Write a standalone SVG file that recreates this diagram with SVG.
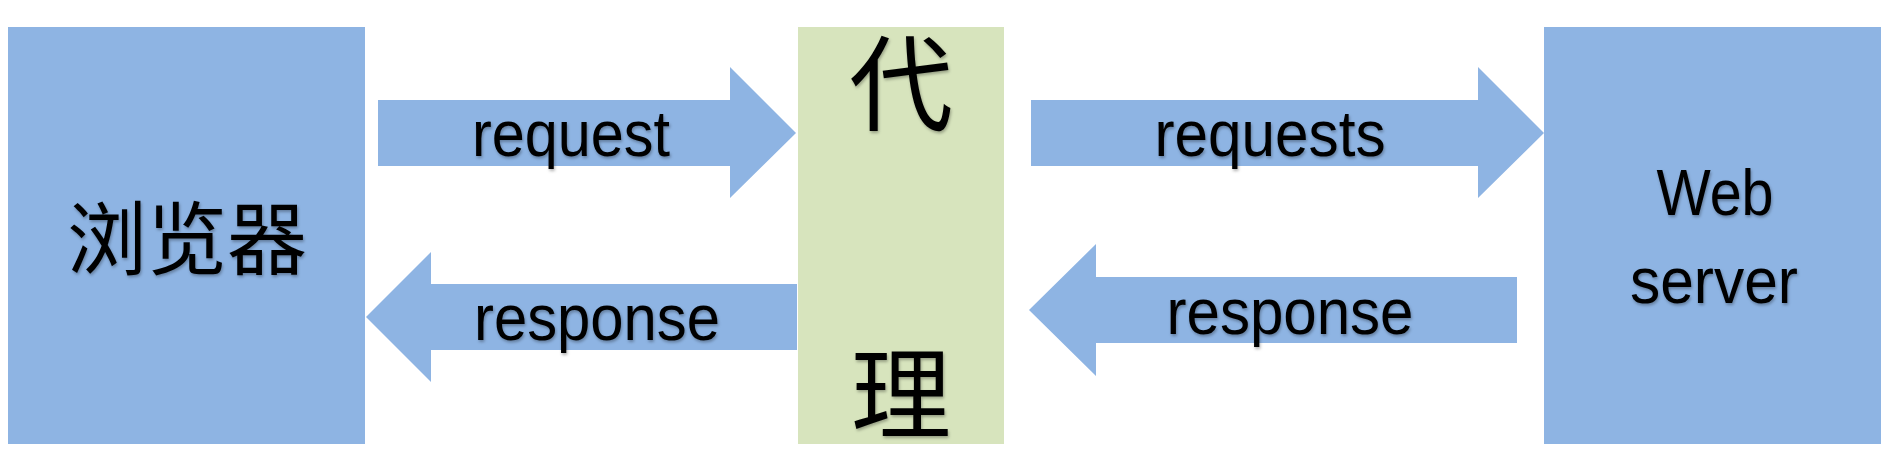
<svg xmlns="http://www.w3.org/2000/svg" width="1901" height="460" viewBox="0 0 1901 460">
  <defs>
    <filter id="ts" x="-10%" y="-10%" width="120%" height="130%">
      <feDropShadow dx="1" dy="2" stdDeviation="1.5" flood-color="#000" flood-opacity="0.3"/>
    </filter>
    <style>
      .blue { fill: #8EB4E3; }
      .green { fill: #D7E4BD; }
      .lbl { font-family: "Liberation Sans", Arial, sans-serif; font-size: 64px; fill: #000; text-anchor: middle; filter: url(#ts); }
      .cjk { font-family: "Noto Sans CJK SC", sans-serif; fill: #000; text-anchor: middle; filter: url(#ts); }
    </style>
  </defs>
  <rect width="1901" height="460" fill="#fff"/>

  <g id="browser">
    <rect class="blue" x="8" y="27" width="357" height="417"/>
    <text class="cjk" x="187" y="268" font-size="80">浏览器</text>
  </g>

  <g id="proxy">
    <rect class="green" x="798" y="27" width="206" height="417"/>
    <text class="cjk" x="901" y="123" font-size="104">代</text>
    <text class="cjk" x="901" y="431" font-size="100">理</text>
  </g>

  <g id="webserver">
    <rect class="blue" x="1544" y="27" width="337" height="417"/>
    <text class="lbl" x="1715" y="215" textLength="117" lengthAdjust="spacingAndGlyphs">Web</text>
    <text class="lbl" x="1714" y="303" textLength="168" lengthAdjust="spacingAndGlyphs">server</text>
  </g>

  <g id="connectors">
    <g id="c-request">
      <polygon class="blue" points="378,100 730,100 730,67 796,133 730,198 730,166 378,166"/>
      <text class="lbl" x="571" y="156" textLength="198" lengthAdjust="spacingAndGlyphs">request</text>
    </g>
    <g id="c-response-left">
      <polygon class="blue" points="797,284 431,284 431,252 366,317 431,382 431,350 797,350"/>
      <text class="lbl" x="597" y="340" textLength="246" lengthAdjust="spacingAndGlyphs">response</text>
    </g>
    <g id="c-requests">
      <polygon class="blue" points="1031,100 1478,100 1478,67 1544,133 1478,198 1478,166 1031,166"/>
      <text class="lbl" x="1270" y="156" textLength="231" lengthAdjust="spacingAndGlyphs">requests</text>
    </g>
    <g id="c-response-right">
      <polygon class="blue" points="1517,277 1096,277 1096,244 1029,310 1096,376 1096,343 1517,343"/>
      <text class="lbl" x="1290" y="334" textLength="247" lengthAdjust="spacingAndGlyphs">response</text>
    </g>
  </g>
</svg>
